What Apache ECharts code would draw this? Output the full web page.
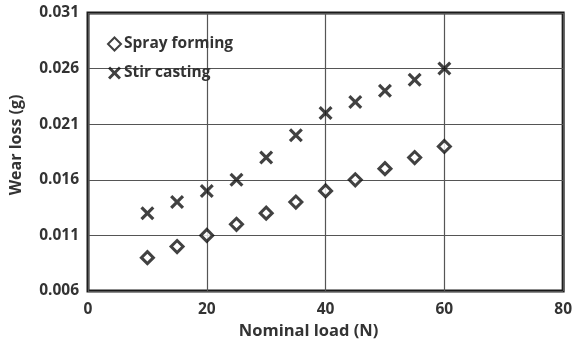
<!DOCTYPE html>
<html>
<head>
<meta charset="utf-8">
<script src="https://cdn.jsdelivr.net/npm/echarts@6/dist/echarts.min.js"></script>
<style>
  html, body { margin: 0; padding: 0; background: #fff; }
  #chart { width: 575px; height: 345px; }
</style>
</head>
<body>
<div id="chart"></div>
<script>
// Nominal load (N)
const loads = [10, 15, 20, 25, 30, 35, 40, 45, 50, 55, 60];
// Wear loss (g)
const sprayForming = [0.009, 0.010, 0.011, 0.012, 0.013, 0.014, 0.015, 0.016, 0.017, 0.018, 0.019];
const stirCasting = [0.013, 0.014, 0.015, 0.016, 0.018, 0.020, 0.022, 0.023, 0.024, 0.025, 0.026];
// Axis ticks
const xTicks = [0, 20, 40, 60, 80];
const yTicks = ['0.006', '0.011', '0.016', '0.021', '0.026', '0.031'];

// Bold "x" cross marker
const crossPath = 'path://M0,1.6L1.6,0L5,3.4L8.4,0L10,1.6L6.6,5L10,8.4L8.4,10L5,6.6L1.6,10L0,8.4L3.4,5Z';

const font = '"Open Sans", "Noto Sans", sans-serif';
const chart = echarts.init(document.getElementById('chart'));

chart.setOption({
  animation: false,
  backgroundColor: '#fff',
  grid: { left: 84, right: 10, top: 13, bottom: 53, show: true, borderColor: '#1a1a1a', borderWidth: 3, backgroundColor: 'transparent' },
  legend: {
    orient: 'vertical',
    left: 102,
    top: 31,
    itemGap: 13,
    itemWidth: 13,
    itemHeight: 13,
    textStyle: { fontFamily: font, fontWeight: 'bold', fontSize: 15.5, color: '#333', padding: [0, 0, 0, -2] },
    data: [
      { name: 'Spray forming' },
      { name: 'Stir casting' }
    ]
  },
  xAxis: {
    type: 'value',
    min: xTicks[0],
    max: xTicks[xTicks.length - 1],
    interval: xTicks[1] - xTicks[0],
    name: 'Nominal load (N)',
    nameLocation: 'middle',
    nameGap: 32,
    nameTextStyle: { fontFamily: font, fontWeight: 'bold', fontSize: 16.5, color: '#333', padding: [0, 34, 0, 0] },
    axisLine: { show: false },
    axisTick: { show: false },
    axisLabel: { fontFamily: font, fontWeight: 'bold', fontSize: 15.5, color: '#333', margin: 11 },
    splitLine: { show: true, lineStyle: { color: '#555', width: 1.2 } }
  },
  yAxis: {
    type: 'value',
    min: Number(yTicks[0]),
    max: Number(yTicks[yTicks.length - 1]),
    interval: 0.005,
    name: 'Wear loss (g)',
    nameLocation: 'middle',
    nameGap: 64,
    nameTextStyle: { fontFamily: font, fontWeight: 'bold', fontSize: 16, color: '#333', padding: [0, 0, 0, 14] },
    axisLine: { show: false },
    axisTick: { show: false },
    axisLabel: {
      fontFamily: font, fontWeight: 'bold', fontSize: 15.5, color: '#333', margin: 9,
      formatter: function (v) {
        const s = v.toFixed(3);
        return yTicks.indexOf(s) >= 0 ? s : '';
      }
    },
    splitLine: { show: true, lineStyle: { color: '#555', width: 1.2 } }
  },
  series: [
    {
      name: 'Spray forming',
      type: 'scatter',
      symbol: 'diamond',
      symbolSize: 12,
      itemStyle: { color: '#fff', borderColor: '#111', borderWidth: 3 },
      data: loads.map((x, i) => [x, sprayForming[i]])
    },
    {
      name: 'Stir casting',
      type: 'scatter',
      symbol: crossPath,
      symbolSize: 14,
      itemStyle: { color: '#111' },
      data: loads.map((x, i) => [x, stirCasting[i]])
    }
  ]
});
</script>
</body>
</html>
